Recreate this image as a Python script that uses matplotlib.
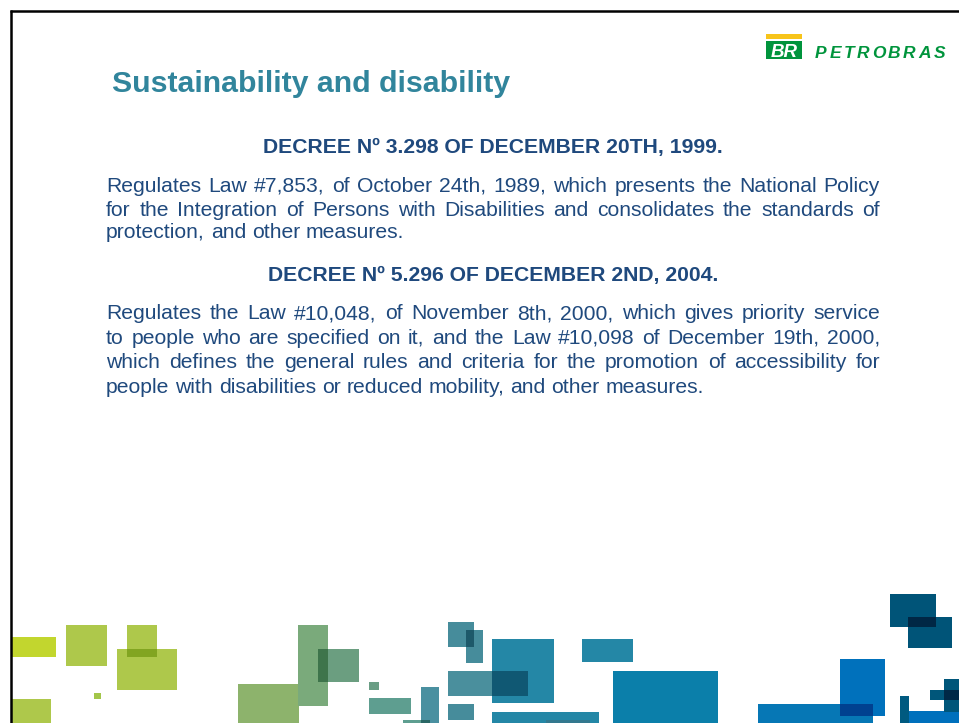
import matplotlib
matplotlib.use("Agg")
import matplotlib.pyplot as plt
from matplotlib.patches import Rectangle
from matplotlib.colors import to_rgb

# ---------------- content ----------------
title = "Sustainability and disability"
header1 = "DECREE Nº 3.298 OF DECEMBER 20TH, 1999."
para1 = [
    "Regulates Law #7,853, of October 24th, 1989, which presents the National Policy",
    "for the Integration of Persons with Disabilities and consolidates the standards of",
    "protection, and other measures.",
]
header2 = "DECREE Nº 5.296 OF DECEMBER 2ND, 2004."
para2 = [
    "Regulates the Law #10,048, of November 8th, 2000, which gives priority service",
    "to people who are specified on it, and the Law #10,098 of December 19th, 2000,",
    "which defines the general rules and criteria for the promotion of accessibility for",
    "people with disabilities or reduced mobility, and other measures.",
]
logo_word = "PETROBRAS"
logo_mark = "BR"

# decorative squares at the bottom (x, y, w, h in slide pixels)
sq_x = [11, 66, 127, 117, 94, 11, 238, 298, 318, 369, 369, 421, 403, 448, 466, 448, 492, 448,
        492, 546, 582, 613, 890, 908, 758, 840, 900, 909, 930, 944]
sq_y = [637, 625, 625, 649, 693, 699, 684, 625, 649, 682, 698, 687, 720, 622, 630, 671, 639, 704,
        712, 720, 639, 671, 594, 617, 704, 659, 696, 711, 690, 679]
sq_w = [45, 41, 30, 60, 7, 40, 61, 30, 41, 10, 42, 18, 27, 26, 17, 80, 62, 26,
        107, 44, 51, 105, 46, 44, 115, 45, 9, 50, 29, 15]
sq_h = [20, 41, 32, 41, 6, 30, 40, 81, 33, 8, 16, 36, 5, 25, 33, 25, 64, 16,
        12, 4, 23, 53, 33, 31, 20, 57, 28, 13, 10, 33]
sq_c = ["#c2d62e", "#aec84b", "#aec84b", "#aec84b", "#a3c64a", "#aec84b", "#8db36c", "#7aaa7b",
        "#6b9e80", "#6a9e85", "#5e9e90", "#4a90a0", "#5e9e90", "#468c9b", "#468c9b", "#4a8f9d",
        "#2487a6", "#468c9b", "#2487a6", "#a3c1c5", "#2487a6", "#0b7faa", "#005478", "#005478",
        "#0677b5", "#0071bc", "#005a80", "#0070bc", "#00567a", "#00567a"]

# ---------------- figure ----------------
W, H = 959, 723
fig = plt.figure(figsize=(W / 100, H / 100), dpi=100)
ax = fig.add_axes([0, 0, 1, 1])
ax.set_xlim(0, W)
ax.set_ylim(H, 0)
ax.axis("off")
renderer = fig.canvas.get_renderer()

FONT = "Liberation Sans"
BLUE = "#1f497d"
TEAL = "#31859c"
GREEN = "#00943c"
YELLOW = "#f7c41a"

# squares
for x, y, w, h, c in zip(sq_x, sq_y, sq_w, sq_h, sq_c):
    ax.add_patch(Rectangle((x, y), w, h, facecolor=c, edgecolor="none", zorder=1))
# overlaps rendered as a softened multiply blend
n = len(sq_x)
for i in range(n):
    for j in range(i + 1, n):
        x0 = max(sq_x[i], sq_x[j]); x1 = min(sq_x[i] + sq_w[i], sq_x[j] + sq_w[j])
        y0 = max(sq_y[i], sq_y[j]); y1 = min(sq_y[i] + sq_h[i], sq_y[j] + sq_h[j])
        if x1 - x0 > 1.5 and y1 - y0 > 1.5:
            ci, cj = to_rgb(sq_c[i]), to_rgb(sq_c[j])
            cm = tuple(0.8 * a * b + 0.2 * b for a, b in zip(ci, cj))
            ax.add_patch(Rectangle((x0, y0), x1 - x0, y1 - y0, facecolor=cm,
                                   edgecolor="none", zorder=2))

# frame lines (top and left)
ax.plot([10, W], [10.5, 10.5], color="black", lw=1.8, solid_capstyle="butt", zorder=5)
ax.plot([10.5, 10.5], [10, H], color="black", lw=1.8, solid_capstyle="butt", zorder=5)

# title
ax.text(112, 92, title, fontsize=21.8, fontweight="bold", color=TEAL, family=FONT,
        ha="left", va="baseline")

# headers
ax.text(493, 153, header1, fontsize=15.2, fontweight="bold", color=BLUE, family=FONT,
        ha="center", va="baseline")
ax.text(493, 281, header2, fontsize=15.2, fontweight="bold", color=BLUE, family=FONT,
        ha="center", va="baseline")

# justified paragraphs
def width_of(s, **kw):
    t = ax.text(0, 0, s, **kw)
    w = t.get_window_extent(renderer=renderer).width
    t.remove()
    return w

body_kw = dict(fontsize=15.2, color=BLUE, family=FONT, va="baseline", ha="left")
space_w = width_of("a a", **body_kw) - width_of("aa", **body_kw)

def justified(lines, baselines, xl=106, xr=880):
    for k, (line, yb) in enumerate(zip(lines, baselines)):
        words = line.split(" ")
        texts = [ax.text(0, yb, w_, **body_kw) for w_ in words]
        widths = [t.get_window_extent(renderer=renderer).width for t in texts]
        last = (k == len(lines) - 1)
        if last or len(words) == 1:
            gap = space_w
        else:
            gap = (xr - xl - sum(widths)) / (len(words) - 1)
        x = xl
        for t, wd in zip(texts, widths):
            t.set_x(x)
            x += wd + gap

justified(para1, [191.5, 215.5, 238.5])
justified(para2, [319, 343.5, 368.5, 393])

# logo
ax.add_patch(Rectangle((766, 34), 36, 5, facecolor=YELLOW, edgecolor="none", zorder=3))
ax.add_patch(Rectangle((766, 41), 36, 18, facecolor=GREEN, edgecolor="none", zorder=3))
ax.text(784, 57, logo_mark, fontsize=13.5, fontweight="bold", fontstyle="italic",
        color="white", family=FONT, ha="center", va="baseline", zorder=4)

logo_kw = dict(fontsize=12.5, fontweight="bold", fontstyle="italic", color=GREEN,
               family=FONT, va="baseline", ha="left")
letters = [ax.text(0, 58, ch, **logo_kw) for ch in logo_word]
lw_ = [t.get_window_extent(renderer=renderer).width for t in letters]
gap = (945 - 815 - sum(lw_)) / (len(letters) - 1)
x = 815
for t, wd in zip(letters, lw_):
    t.set_x(x)
    x += wd + gap

fig.savefig("out.png", dpi=100, facecolor="white")
